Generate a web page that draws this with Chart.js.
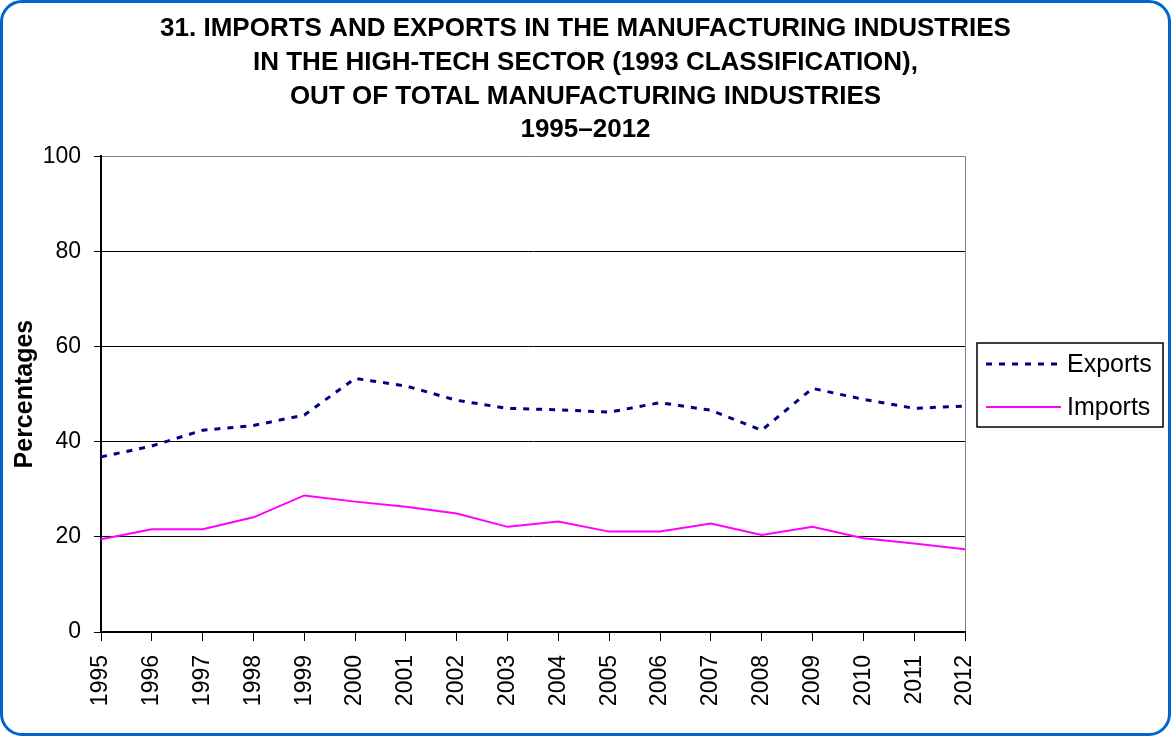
<!DOCTYPE html>
<html lang="en">
<head>
    <meta charset="UTF-8">
    <title>High-tech imports and exports</title>
    <script src="https://cdn.jsdelivr.net/npm/chart.js"></script>
    <style>
        html, body {
            margin: 0;
            padding: 0;
            background: #fff;
        }

        .frame {
            position: absolute;
            left: 0;
            top: 0;
            width: 1171px;
            height: 736px;
            box-sizing: border-box;
            border: 3px solid #0066cc;
            border-radius: 22px;
            pointer-events: none;
        }

        #tradeChart {
            position: absolute;
            left: 0;
            top: 0;
        }
    </style>
</head>
<body>
    <canvas id="tradeChart" width="1171" height="736"></canvas>
    <div class="frame"></div>

    <script>
        const years = ["1995", "1996", "1997", "1998", "1999", "2000", "2001", "2002", "2003",
                       "2004", "2005", "2006", "2007", "2008", "2009", "2010", "2011", "2012"];
        const exportsShare = [36.8, 39.1, 42.4, 43.4, 45.6, 53.3, 51.7, 48.7, 47.0,
                              46.7, 46.2, 48.2, 46.6, 42.4, 51.2, 48.9, 47.0, 47.5];
        const importsShare = [19.5, 21.6, 21.6, 24.1, 28.7, 27.4, 26.3, 24.9, 22.1,
                              23.2, 21.1, 21.1, 22.8, 20.4, 22.1, 19.7, 18.6, 17.4];
        const titleLines = [
            "31. IMPORTS AND EXPORTS IN THE MANUFACTURING INDUSTRIES",
            "IN THE HIGH-TECH SECTOR (1993 CLASSIFICATION),",
            "OUT OF TOTAL MANUFACTURING INDUSTRIES",
            "1995\u20132012"
        ];

        const FONT = "'Liberation Sans', Arial, sans-serif";

        // boxed legend on the right, drawn from the dataset styles
        const boxLegend = {
            id: "boxLegend",
            afterDraw(chart) {
                const ctx = chart.ctx;
                const x = 977, y = 343, w = 186, h = 84;
                ctx.save();
                ctx.strokeStyle = "#000";
                ctx.lineWidth = 1.5;
                ctx.strokeRect(x, y, w, h);
                ctx.font = "25px " + FONT;
                ctx.fillStyle = "#000";
                ctx.textBaseline = "middle";
                chart.data.datasets.forEach((ds, i) => {
                    const rowY = y + 21 + i * 43;
                    ctx.beginPath();
                    ctx.strokeStyle = ds.borderColor;
                    ctx.lineWidth = ds.borderWidth;
                    ctx.setLineDash(ds.borderDash || []);
                    ctx.moveTo(986, rowY);
                    ctx.lineTo(1061, rowY);
                    ctx.stroke();
                    ctx.setLineDash([]);
                    ctx.fillText(ds.label, 1067, rowY + 1);
                });
                ctx.restore();
            }
        };

        new Chart(document.getElementById("tradeChart"), {
            type: "line",
            data: {
                labels: years,
                datasets: [
                    {
                        label: "Exports",
                        data: exportsShare,
                        borderColor: "#000080",
                        borderWidth: 3,
                        borderDash: [6, 7],
                        pointRadius: 0,
                        tension: 0,
                        fill: false
                    },
                    {
                        label: "Imports",
                        data: importsShare,
                        borderColor: "#ff00ff",
                        borderWidth: 2,
                        pointRadius: 0,
                        tension: 0,
                        fill: false
                    }
                ]
            },
            options: {
                responsive: false,
                animation: false,
                layout: {
                    padding: { left: 0, right: 0, top: 0, bottom: 10 }
                },
                plugins: {
                    legend: { display: false },
                    tooltip: { enabled: false },
                    title: {
                        display: true,
                        text: titleLines,
                        color: "#000",
                        font: { family: FONT, size: 26, weight: "bold", lineHeight: 1.3 },
                        padding: { top: 12, bottom: 9 }
                    }
                },
                scales: {
                    x: {
                        offset: false,
                        afterFit(scale) { scale.height = 94; },
                        border: { color: "#000", width: 2 },
                        grid: {
                            color: c => c.index === years.length - 1 ? "#808080" : "rgba(0,0,0,0)",
                            tickColor: "#000",
                            tickLength: 9,
                            lineWidth: 1
                        },
                        ticks: {
                            autoSkip: false,
                            maxRotation: 90,
                            minRotation: 90,
                            padding: 14,
                            color: "#000",
                            font: { family: FONT, size: 23 }
                        }
                    },
                    y: {
                        min: 0,
                        max: 100,
                        afterFit(scale) { scale.width = 101; },
                        border: { color: "#000", width: 2 },
                        grid: {
                            color: c => c.tick && c.tick.value === 100 ? "#808080" : "#000",
                            tickColor: "#000",
                            tickLength: 7,
                            lineWidth: 1
                        },
                        ticks: {
                            stepSize: 20,
                            padding: 13,
                            color: "#000",
                            font: { family: FONT, size: 23 }
                        },
                        title: {
                            display: true,
                            text: "Percentages",
                            color: "#000",
                            font: { family: FONT, size: 25, weight: "bold" },
                            padding: { top: 10, bottom: 0 }
                        }
                    },
                    // empty right-hand strip that leaves room for the legend box
                    legendSpace: {
                        position: "right",
                        min: 0,
                        max: 100,
                        afterFit(scale) { scale.width = 206; },
                        border: { display: false },
                        grid: { drawOnChartArea: false, drawTicks: false },
                        ticks: { display: false }
                    }
                }
            },
            plugins: [boxLegend]
        });
    </script>
</body>
</html>
